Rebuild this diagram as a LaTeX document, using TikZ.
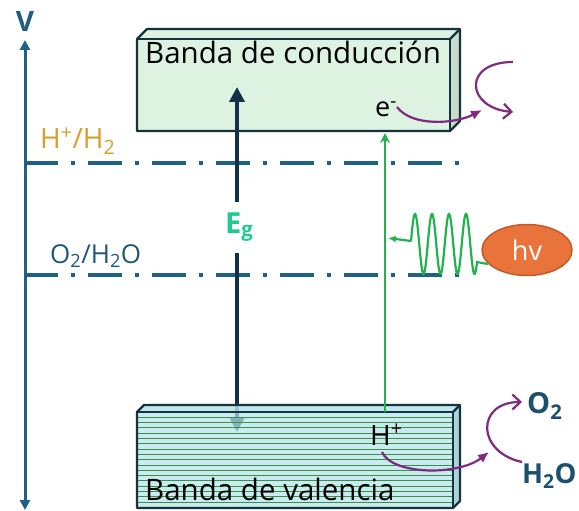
\documentclass[tikz,border=0pt]{standalone}
\usepackage{fontspec}
\setmainfont{Open Sans}
\usetikzlibrary{arrows.meta,shapes.geometric}
\definecolor{axisblue}{HTML}{1D6285}
\definecolor{vcol}{HTML}{1F5F80}
\definecolor{cbfill}{HTML}{DDF2E0}
\definecolor{cbside}{HTML}{C7DCCB}
\definecolor{vbfill}{HTML}{B3E4EA}
\definecolor{vbside}{HTML}{9CCCD4}
\definecolor{stripe}{HTML}{3D8F45}
\definecolor{border}{HTML}{17323F}
\definecolor{egarrowcol}{HTML}{14304A}
\definecolor{egcol}{HTML}{20C98F}
\definecolor{greenarr}{HTML}{22B24F}
\definecolor{hvfill}{HTML}{E8743B}
\definecolor{hvborder}{HTML}{C35A25}
\definecolor{purple}{HTML}{7E2A7E}
\definecolor{molcol}{HTML}{1D4F6E}
\definecolor{hhcol}{HTML}{D4A02A}
\definecolor{ohcol}{HTML}{1F5678}
\tikzset{
  fsz/.style={font=\fontsize{#1}{#1}\selectfont},
  lbl/.style={anchor=base west, inner sep=0pt},
  boxline/.style={draw=border, line width=2.2pt, line join=round},
  dashdot/.style={axisblue, line width=4pt, dash pattern=on 34pt off 13pt on 4pt off 13pt},
  egarrow/.style={egarrowcol, line width=4pt, -{Triangle[length=15pt,width=15pt]}},
  greenline/.style={greenarr, line width=2.2pt},
  purplearr/.style={purple, line width=2.2pt},
  molecule/.style={anchor=base west, inner sep=0pt, font=\bfseries\fontsize{#1}{#1}\selectfont, text=molcol},
}
\begin{document}
\begin{tikzpicture}[x=1pt,y=-1pt]
\useasboundingbox (0,0) rectangle (579,511);
% axis
\coordinate (axtop) at (25,40);
\coordinate (axbot) at (25,510);
\coordinate (axmid) at (25,275);
\draw[axisblue, line width=3pt, -{Triangle[length=10pt,width=10pt]}] (axmid) -- (axtop);
\draw[axisblue, line width=3pt, -{Triangle[length=10pt,width=10pt]}] (axmid) -- (axbot);
\node[font=\bfseries\fontsize{28}{28}\selectfont, text=vcol, inner sep=0pt] (V) at (25,22) {V};
% dash-dot levels
\coordinate (h1a) at (24,163); \coordinate (h1b) at (461,163);
\coordinate (h2a) at (24,275); \coordinate (h2b) at (461,275);
\draw[dashdot] (h1a) -- (h1b);
\draw[dashdot] (h2a) -- (h2b);
\node[lbl, fsz=28, text=hhcol] (hh) at (40,149) {H\textsuperscript{+}/H\textsubscript{2}};
\node[lbl, fsz=26, text=ohcol] (oh) at (50,263) {O\textsubscript{2}/H\textsubscript{2}O};
% lower Eg arrow (under the valence band)
\coordinate (eg1s) at (237,202); \coordinate (eg1e) at (237,87);
\coordinate (eg2s) at (237,253); \coordinate (eg2e) at (237,432);
\draw[egarrow] (eg2s) -- (eg2e);
\node[lbl, font=\bfseries\fontsize{29}{29}\selectfont, text=egcol] (eg) at (225,233) {E\textsubscript{g}};
% conduction band
\fill[cbside] (450,39) -- (460,29) -- (460,121) -- (450,131) -- cycle;
\fill[cbfill] (137,39) -- (147,29) -- (460,29) -- (450,39) -- cycle;
\fill[cbfill] (137,39) rectangle (450,131);
\draw[boxline] (137,39) -- (147,29) -- (460,29) -- (460,121) -- (450,131) -- (137,131) -- cycle;
\draw[boxline] (137,39) -- (450,39) -- (450,131);
\draw[boxline] (450,39) -- (460,29);
\node[lbl, fsz=29.5] (cbtext) at (145,64) {Banda de conducción};
% upper Eg arrow (over the conduction band)
\draw[egarrow] (eg1s) -- (eg1e);
% valence band (semi-transparent over arrow)
\fill[vbside, fill opacity=0.85] (453,412) -- (460,405) -- (460,501) -- (453,508) -- cycle;
\fill[vbfill, fill opacity=0.85] (137,412) -- (144,405) -- (460,405) -- (453,412) -- cycle;
\fill[vbfill, fill opacity=0.72] (137,412) rectangle (453,508);
\foreach \yy in {417.3,422.6,...,506} \draw[stripe, line width=0.9pt] (137,\yy) -- (453,\yy);
\draw[boxline] (137,412) -- (144,405) -- (460,405) -- (460,501) -- (453,508) -- (137,508) -- cycle;
\draw[boxline] (137,412) -- (453,412) -- (453,508);
\draw[boxline] (453,412) -- (460,405);
\node[lbl, fsz=29.5] (vbtext) at (145,500) {Banda de valencia};
% green excitation arrow
\coordinate (gs) at (385,412); \coordinate (ge) at (385,133);
\draw[greenline, -{Stealth[length=10pt,width=10pt]}] (gs) -- (ge);
% photon
\node[ellipse, fill=hvfill, draw=hvborder, line width=1.5pt, minimum width=90pt, minimum height=51pt, inner sep=0pt, text=white, fsz=27] (hv) at (527,250) {hv};
\coordinate (ws) at (411,241); \coordinate (wt) at (388,238);
\draw[greenline] plot[variable=\t, domain=0:66, samples=150] ({411+\t}, {244 - 30*cos(21.1765*(\t-4))}) -- (hv.200);
\draw[greenline, -{Latex[length=8pt,width=7pt]}] (ws) -- (wt);
% labels in bands
\node[lbl, fsz=27] (em) at (375,117) {e\textsuperscript{-}};
\node[lbl, fsz=28] (hp) at (370,445) {H\textsuperscript{+}};
% purple arrows top
\coordinate (p1s) at (397,107); \coordinate (p1e) at (482,110);
\draw[purplearr, -{Latex[length=11pt,width=10pt]}] (p1s) .. controls (412,127) and (455,124) .. (p1e);
\coordinate (c1s) at (513,62); \coordinate (c1e) at (513,112);
\draw[purplearr, -{Straight Barb[length=8pt,width=15pt]}] (c1s) .. controls (462,62) and (466,108) .. (c1e);
% purple arrows bottom
\coordinate (p2s) at (382,452); \coordinate (p2e) at (489,452);
\draw[purplearr, -{Latex[length=11pt,width=10pt]}] (p2s) .. controls (392,475) and (458,476) .. (p2e);
\coordinate (c2s) at (522,462); \coordinate (c2e) at (522,402);
\draw[purplearr, -{Straight Barb[length=8pt,width=15pt]}] (c2s) .. controls (476,452) and (476,402) .. (c2e);
\node[molecule=29] (o2) at (527,413) {O\textsubscript{2}};
\node[molecule=27.5] (h2o) at (522,483) {H\textsubscript{2}O};
\end{tikzpicture}
\end{document}
